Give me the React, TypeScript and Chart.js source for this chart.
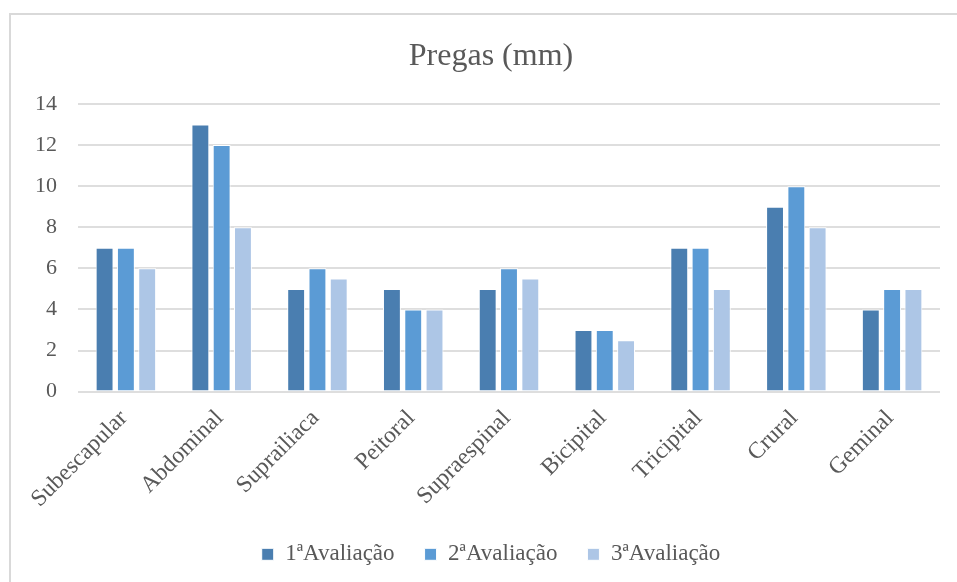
import React, { useEffect, useRef } from "react";
import { Chart, registerables } from "chart.js";

Chart.register(...registerables);

const categories = [
  "Subescapular",
  "Abdominal",
  "Suprailiaca",
  "Peitoral",
  "Supraespinal",
  "Bicipital",
  "Tricipital",
  "Crural",
  "Geminal",
];
const seriesNames = ["1ªAvaliação", "2ªAvaliação", "3ªAvaliação"];
const avaliacao1 = [7, 13, 5, 5, 5, 3, 7, 9, 4];
const avaliacao2 = [7, 12, 6, 4, 6, 3, 7, 10, 5];
const avaliacao3 = [6, 8, 5.5, 4, 5.5, 2.5, 5, 8, 5];
const seriesColors = ["#4a7eb0", "#5b9bd5", "#adc6e6"];
const yTicks = [0, 2, 4, 6, 8, 10, 12, 14];

const FONT = '"Liberation Serif", "Times New Roman", serif';

export default function App() {
  const canvasRef = useRef<HTMLCanvasElement | null>(null);

  useEffect(() => {
    const canvas = canvasRef.current;
    if (!canvas) return;
    const values = [avaliacao1, avaliacao2, avaliacao3];
    const chart = new Chart(canvas, {
      type: "bar",
      data: {
        labels: categories,
        datasets: seriesNames.map((name, i) => ({
          label: name,
          data: values[i],
          backgroundColor: seriesColors[i],
          borderColor: "#ffffff",
          borderWidth: 1,
          barPercentage: 0.84,
          categoryPercentage: 0.667,
          yAxisID: "y",
        })),
      },
      options: {
        responsive: false,
        animation: false,
        devicePixelRatio: 1,
        layout: { padding: { left: 30, right: 32, top: 0, bottom: 6.2 } },
        plugins: {
          title: {
            display: true,
            text: "Pregas (mm)",
            color: "#595959",
            font: { family: FONT, size: 32, weight: "normal" },
            padding: { top: 37, bottom: 28.6 },
          },
          legend: {
            position: "bottom",
            labels: {
              color: "#595959",
              font: { family: FONT, size: 23 },
              boxWidth: 12,
              boxHeight: 12,
              padding: 30,
            },
          },
          tooltip: { enabled: false },
        },
        scales: {
          x: {
            grid: { display: false, drawTicks: false },
            border: { display: false },
            ticks: {
              color: "#595959",
              font: { family: FONT, size: 23.5 },
              minRotation: 45,
              maxRotation: 45,
              padding: 13,
              labelOffset: -2,
              autoSkip: false,
            },
            afterFit: (scale: any) => {
              scale.height = 121.2;
            },
          },
          y: {
            min: 0,
            max: 14,
            afterBuildTicks: (scale: any) => {
              scale.ticks = yTicks.map((v) => ({ value: v }));
            },
            grid: { color: "#dedede", lineWidth: 2, drawTicks: false },
            border: { display: false },
            ticks: {
              color: "#595959",
              font: { family: FONT, size: 22 },
              padding: 21,
            },
            afterFit: (scale: any) => {
              scale.width = 48;
            },
          },
          yRight: {
            position: "right",
            min: 0,
            max: 1,
            grid: { display: false, drawTicks: false },
            border: { display: false },
            ticks: { display: false },
            afterFit: (scale: any) => {
              scale.width = 12;
            },
          },
        },
      },
    });
    return () => chart.destroy();
  }, []);

  return (
    <div
      style={{
        position: "fixed",
        left: 0,
        top: 0,
        width: 957,
        height: 582,
        overflow: "hidden",
        background: "#ffffff",
      }}
    >
      <div
        style={{
          position: "absolute",
          left: 9,
          top: 13,
          width: 1000,
          height: 600,
          borderLeft: "2px solid #d9d9d9",
          borderTop: "2px solid #d9d9d9",
        }}
      />
      <canvas
        ref={canvasRef}
        width={984}
        height={582}
        style={{ position: "absolute", left: 0, top: 0, width: 984, height: 582 }}
      />
    </div>
  );
}
